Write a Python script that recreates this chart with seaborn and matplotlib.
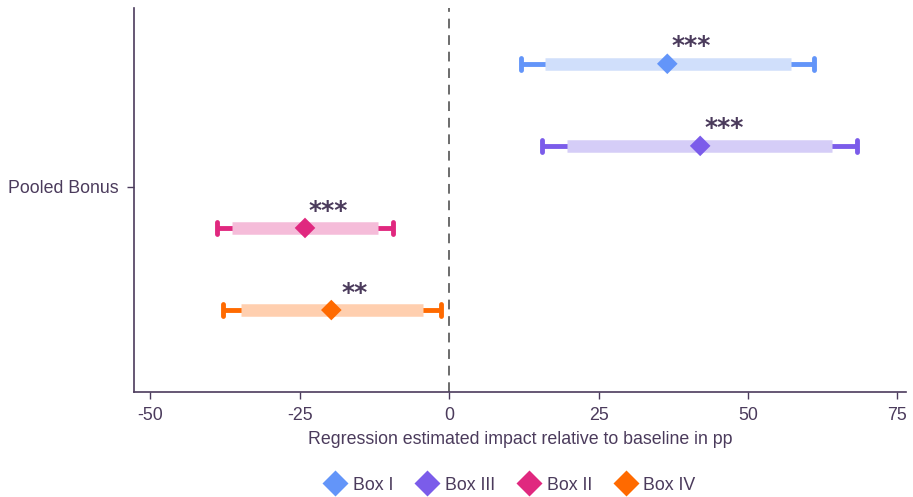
import matplotlib
matplotlib.use("Agg")
import matplotlib.pyplot as plt
import seaborn as sns
import pandas as pd

# values
groups = ["Box I", "Box III", "Box II", "Box IV"]
estimate = [36.5, 42.0, -24.1, -19.7]
ci90_low = [16.0, 19.8, -36.3, -34.8]
ci90_high = [57.2, 64.0, -11.9, -4.4]
ci95_low = [12.0, 15.5, -38.8, -37.8]
ci95_high = [61.0, 68.2, -9.4, -1.4]
stars = ["***", "***", "***", "**"]
row_offset = [-1.5, -0.5, 0.5, 1.5]
xticks = [-50, -25, 0, 25, 50, 75]

dark = ["#6395f9", "#7b5cea", "#e0287f", "#ff6a00"]
light = ["#d0dffb", "#d5cdf7", "#f5bcd9", "#ffcfaf"]
txt = "#4b3b5c"

sns.set_theme(style="white")
plt.rcParams["font.family"] = ["Liberation Sans", "DejaVu Sans"]

df = pd.DataFrame({"group": groups, "estimate": estimate, "y": row_offset})

fig = plt.figure(figsize=(9.13, 4.97), dpi=100)
ax = fig.add_axes([0.1468, 0.211, 0.846, 0.773])

ax.axvline(0, color="#6b6b6b", lw=1.4, ls=(0, (5, 3.5)), zorder=1)

for i in range(len(groups)):
    y = row_offset[i]
    ax.hlines(y, ci95_low[i], ci95_high[i], color=dark[i], lw=3.5, zorder=2)
    for xe in (ci95_low[i], ci95_high[i]):
        ax.vlines(xe, y - 0.07, y + 0.07, color=dark[i], lw=3.5,
                  capstyle="round", zorder=2)
    ax.hlines(y, ci90_low[i], ci90_high[i], color=light[i], lw=9, zorder=3)
    ax.annotate(stars[i], (estimate[i], y), xytext=(17, 7.5),
                textcoords="offset points", ha="center", va="baseline",
                fontsize=18, color=txt, fontweight="bold",
                family="DejaVu Sans", zorder=5)

sns.scatterplot(data=df, x="estimate", y="y", hue="group", palette=dark,
                marker="D", s=110, edgecolor="none", zorder=4, ax=ax)

ax.set_xlim(-52.7, 76.5)
ax.set_ylim(2.5, -2.18)
ax.set_xticks(xticks)
ax.set_xticklabels([str(t) for t in xticks])
ax.set_yticks([0])
ax.set_yticklabels(["Pooled Bonus"])
ax.set_xlabel("Regression estimated impact relative to baseline in pp",
              fontsize=12.8, color=txt, labelpad=5)
ax.set_ylabel("")

for s in ["top", "right"]:
    ax.spines[s].set_visible(False)
for s in ["left", "bottom"]:
    ax.spines[s].set_color("#4b3b5c")
    ax.spines[s].set_linewidth(1.2)
ax.tick_params(axis="both", length=5, width=1, color="#4b3b5c",
               labelsize=12.8, labelcolor=txt, bottom=True, left=True, pad=6)

handles, labels = ax.get_legend_handles_labels()
ax.legend(handles, labels, loc="upper center", bbox_to_anchor=(0.488, -0.178),
          ncol=4, frameon=False, fontsize=12.8, labelcolor=txt,
          handlelength=1.0, handletextpad=0.5, columnspacing=1.4,
          markerscale=1.25)

fig.savefig("out.png", dpi=100)
